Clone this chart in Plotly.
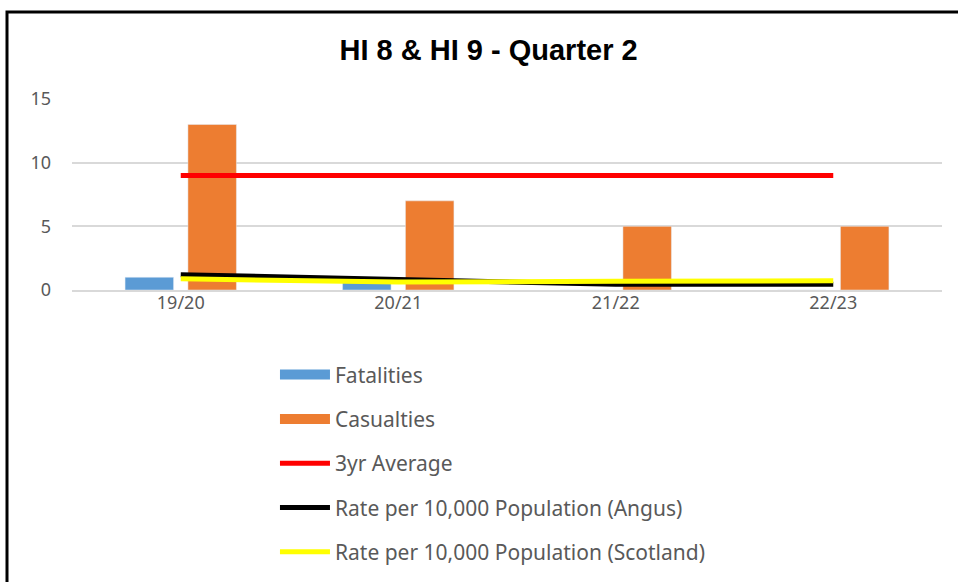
import plotly.graph_objects as go

years = ["19/20", "20/21", "21/22", "22/23"]
fatalities = [1, 1, 0, 0]
casualties = [13, 7, 5, 5]
avg3yr = [9, 9, 9, 9]
rate_angus = [1.2, 0.8, 0.45, 0.45]
rate_scotland = [0.88, 0.62, 0.68, 0.73]
y_ticks = [0, 5, 10, 15]

BLUE = "#5b9bd5"
ORANGE = "#ed7d31"
GRAY = "#595959"

fig = go.Figure()
fig.add_trace(go.Bar(x=years, y=fatalities, name="Fatalities", marker_color=BLUE,
                     width=0.223, offset=-0.256, showlegend=False))
fig.add_trace(go.Bar(x=years, y=casualties, name="Casualties", marker_color=ORANGE,
                     width=0.223, offset=0.033, showlegend=False))
fig.add_trace(go.Scatter(x=years, y=avg3yr, mode="lines", name="3yr Average",
                         line=dict(color="#ff0000", width=5), showlegend=False))
fig.add_trace(go.Scatter(x=years, y=rate_angus, mode="lines", name="Rate per 10,000 Population (Angus)",
                         line=dict(color="#000000", width=5), showlegend=False))
fig.add_trace(go.Scatter(x=years, y=rate_scotland, mode="lines", name="Rate per 10,000 Population (Scotland)",
                         line=dict(color="#ffff00", width=5), showlegend=False))

# legend entries
legend_items = [("Fatalities", BLUE, 12), ("Casualties", ORANGE, 12),
                ("3yr Average", "#ff0000", 5),
                ("Rate per 10,000 Population (Angus)", "#000000", 5),
                ("Rate per 10,000 Population (Scotland)", "#ffff00", 5)]
for i, (nm, col, w) in enumerate(legend_items):
    fig.add_trace(go.Scatter(x=[None], y=[None], mode="lines", name=nm,
                             line=dict(color=col, width=w), legendgroup=f"g{i}",
                             showlegend=True))

fig.update_layout(
    width=958, height=582,
    margin=dict(l=72, r=16, t=99, b=292, autoexpand=False),
    paper_bgcolor="white", plot_bgcolor="white",
    barmode="overlay",
    title=dict(text="<b>HI 8 & HI 9 - Quarter 2</b>", x=0.51, xanchor="center",
               y=0.915, yanchor="middle",
               font=dict(family="Liberation Sans", size=29, color="#000000")),
    font=dict(family="Noto Sans", color=GRAY),
    legend=dict(x=0.2333, xanchor="left", y=0.391, yanchor="top", yref="container",
                orientation="v", traceorder="grouped", tracegroupgap=14,
                font=dict(family="Noto Sans", size=21, color=GRAY),
                bgcolor="rgba(0,0,0,0)", itemwidth=50),
    xaxis=dict(showgrid=False, showline=True, linecolor="#d9d9d9", linewidth=1.5,
               tickfont=dict(size=18, color=GRAY), ticks="", ticklabelstandoff=-4),
    yaxis=dict(range=[0, 15], tickvals=y_ticks, showgrid=True, gridcolor="#d9d9d9",
               gridwidth=1.5, zeroline=False, showline=False, ticks="",
               ticklabelstandoff=20,
               tickfont=dict(size=18, color=GRAY)),
    shapes=[dict(type="rect", xref="paper", yref="paper",
                 x0=(7 - 72) / 870, x1=1.2, y0=-2.0, y1=(290 - 12) / 191,
                 line=dict(color="black", width=3), fillcolor="rgba(0,0,0,0)", layer="below")],
)

fig.write_html("out.html", config={"displayModeBar": False},
               post_script="document.body.style.margin='0px';")
